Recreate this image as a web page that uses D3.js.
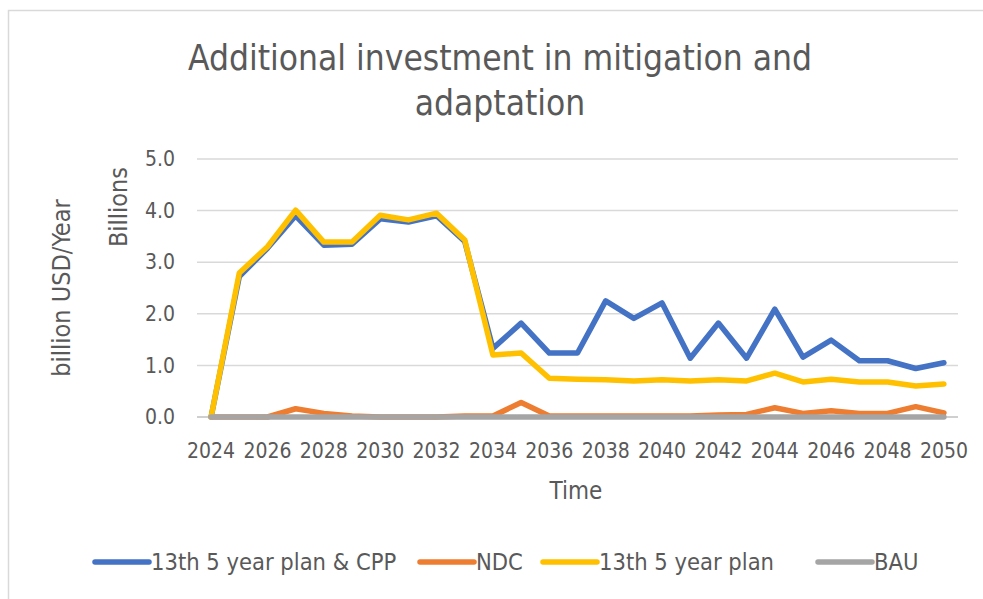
<!DOCTYPE html>
<html>
<head>
<meta charset="utf-8">
<script src="https://cdn.jsdelivr.net/npm/d3@7"></script>
<style>
  html, body { margin: 0; padding: 0; background: #fff; }
  svg { display: block; }
  text { font-family: "DejaVu Sans Condensed", "Liberation Sans", sans-serif; fill: #595959; }
</style>
</head>
<body>
<svg id="chart" width="983" height="599"></svg>
<script>
// Years on the category axis
const years = d3.range(2024, 2051);
const tickYears = years.filter(y => (y - 2024) % 2 === 0);
const yTicks = [0, 1, 2, 3, 4, 5];

// Additional investment, billion USD per year
const planCPP = [0, 2.72, 3.27, 3.90, 3.33, 3.35, 3.84, 3.78, 3.90, 3.40, 1.33, 1.82, 1.24, 1.24, 2.25, 1.91, 2.21, 1.14, 1.82, 1.14, 2.09, 1.16, 1.49, 1.09, 1.09, 0.94, 1.05];
const ndc     = [0, 0, 0, 0.16, 0.07, 0.02, 0, 0, 0, 0.02, 0.02, 0.28, 0.02, 0.02, 0.02, 0.02, 0.02, 0.02, 0.04, 0.05, 0.18, 0.07, 0.12, 0.07, 0.07, 0.20, 0.08];
const plan13  = [0, 2.79, 3.30, 4.01, 3.39, 3.39, 3.91, 3.82, 3.95, 3.43, 1.20, 1.24, 0.75, 0.73, 0.72, 0.70, 0.72, 0.70, 0.72, 0.70, 0.85, 0.68, 0.73, 0.68, 0.68, 0.60, 0.64];
const bau     = [0, 0, 0, 0, 0, 0, 0, 0, 0, 0, 0, 0, 0, 0, 0, 0, 0, 0, 0, 0, 0, 0, 0, 0, 0, 0, 0];

const seriesNames = ["13th 5 year plan & CPP", "NDC", "13th 5 year plan", "BAU"];
const seriesColors = ["#4472C4", "#ED7D31", "#FFC000", "#A5A5A5"];
const seriesValues = [planCPP, ndc, plan13, bau];

const svg = d3.select("#chart");

// Chart frame
svg.append("path")
  .attr("d", "M8.5,599 V10.5 H983")
  .attr("fill", "none")
  .attr("stroke", "#d9d9d9")
  .attr("stroke-width", 1.5);

const plot = { left: 197, right: 958, top: 159, bottom: 417 };

const x = d3.scaleBand().domain(years).range([plot.left, plot.right]);
const xc = d => x(d) + x.bandwidth() / 2;
const y = d3.scaleLinear().domain([0, 5]).range([plot.bottom, plot.top]);

// Horizontal gridlines
svg.append("g")
  .selectAll("line")
  .data(yTicks.filter(t => t > 0))
  .join("line")
  .attr("x1", plot.left).attr("x2", plot.right)
  .attr("y1", d => y(d)).attr("y2", d => y(d))
  .attr("stroke", "#d9d9d9").attr("stroke-width", 1.5);

// Category axis line
svg.append("line")
  .attr("x1", plot.left).attr("x2", plot.right)
  .attr("y1", y(0)).attr("y2", y(0))
  .attr("stroke", "#bfbfbf").attr("stroke-width", 1.5);

// Value axis labels
const yAxis = d3.axisLeft(y).tickValues(yTicks).tickFormat(d3.format(".1f")).tickSize(0).tickPadding(22);
const gy = svg.append("g").attr("transform", `translate(${plot.left},0)`).call(yAxis);
gy.select(".domain").remove();
gy.selectAll("text").style("font-size", "21px").attr("fill", "#595959")
  .style("font-family", "'DejaVu Sans Condensed', sans-serif");

// Category axis labels
const xAxis = d3.axisBottom(x).tickValues(tickYears).tickSize(0).tickPadding(26);
const gx = svg.append("g").attr("transform", `translate(0,${plot.bottom})`).call(xAxis);
gx.select(".domain").remove();
gx.selectAll("text").style("font-size", "21px").attr("fill", "#595959")
  .style("font-family", "'DejaVu Sans Condensed', sans-serif");

// Series lines
const line = d3.line().x((d, i) => xc(years[i])).y(d => y(d)).curve(d3.curveLinear);
svg.append("g")
  .selectAll("path")
  .data(seriesValues)
  .join("path")
  .attr("d", d => line(d))
  .attr("fill", "none")
  .attr("stroke", (d, i) => seriesColors[i])
  .attr("stroke-width", 5.5)
  .attr("stroke-linejoin", "round")
  .attr("stroke-linecap", "round");

// Title
const title = svg.append("text")
  .attr("x", 500).attr("text-anchor", "middle")
  .style("font-size", "35px");
title.append("tspan").attr("x", 500).attr("y", 70).text("Additional investment in mitigation and");
title.append("tspan").attr("x", 500).attr("y", 115).text("adaptation");

// Axis titles
svg.append("text")
  .attr("transform", "translate(70,288) rotate(-90)")
  .attr("text-anchor", "middle")
  .style("font-size", "25px")
  .text("billion USD/Year");

svg.append("text")
  .attr("transform", "translate(127,207) rotate(-90)")
  .attr("text-anchor", "middle")
  .style("font-size", "25px")
  .text("Billions");

svg.append("text")
  .attr("x", 576).attr("y", 499)
  .attr("text-anchor", "middle")
  .style("font-size", "24px")
  .text("Time");

// Legend
const legendX = [95, 420, 543, 818];
const lg = svg.append("g")
  .selectAll("g")
  .data(seriesNames)
  .join("g")
  .attr("transform", (d, i) => `translate(${legendX[i]},562)`);
lg.append("line")
  .attr("x1", 0).attr("x2", 54)
  .attr("stroke", (d, i) => seriesColors[i])
  .attr("stroke-width", 5.5)
  .attr("stroke-linecap", "round");
lg.append("text")
  .attr("x", 56).attr("y", 8)
  .style("font-size", "23.5px")
  .text(d => d);
</script>
</body>
</html>
